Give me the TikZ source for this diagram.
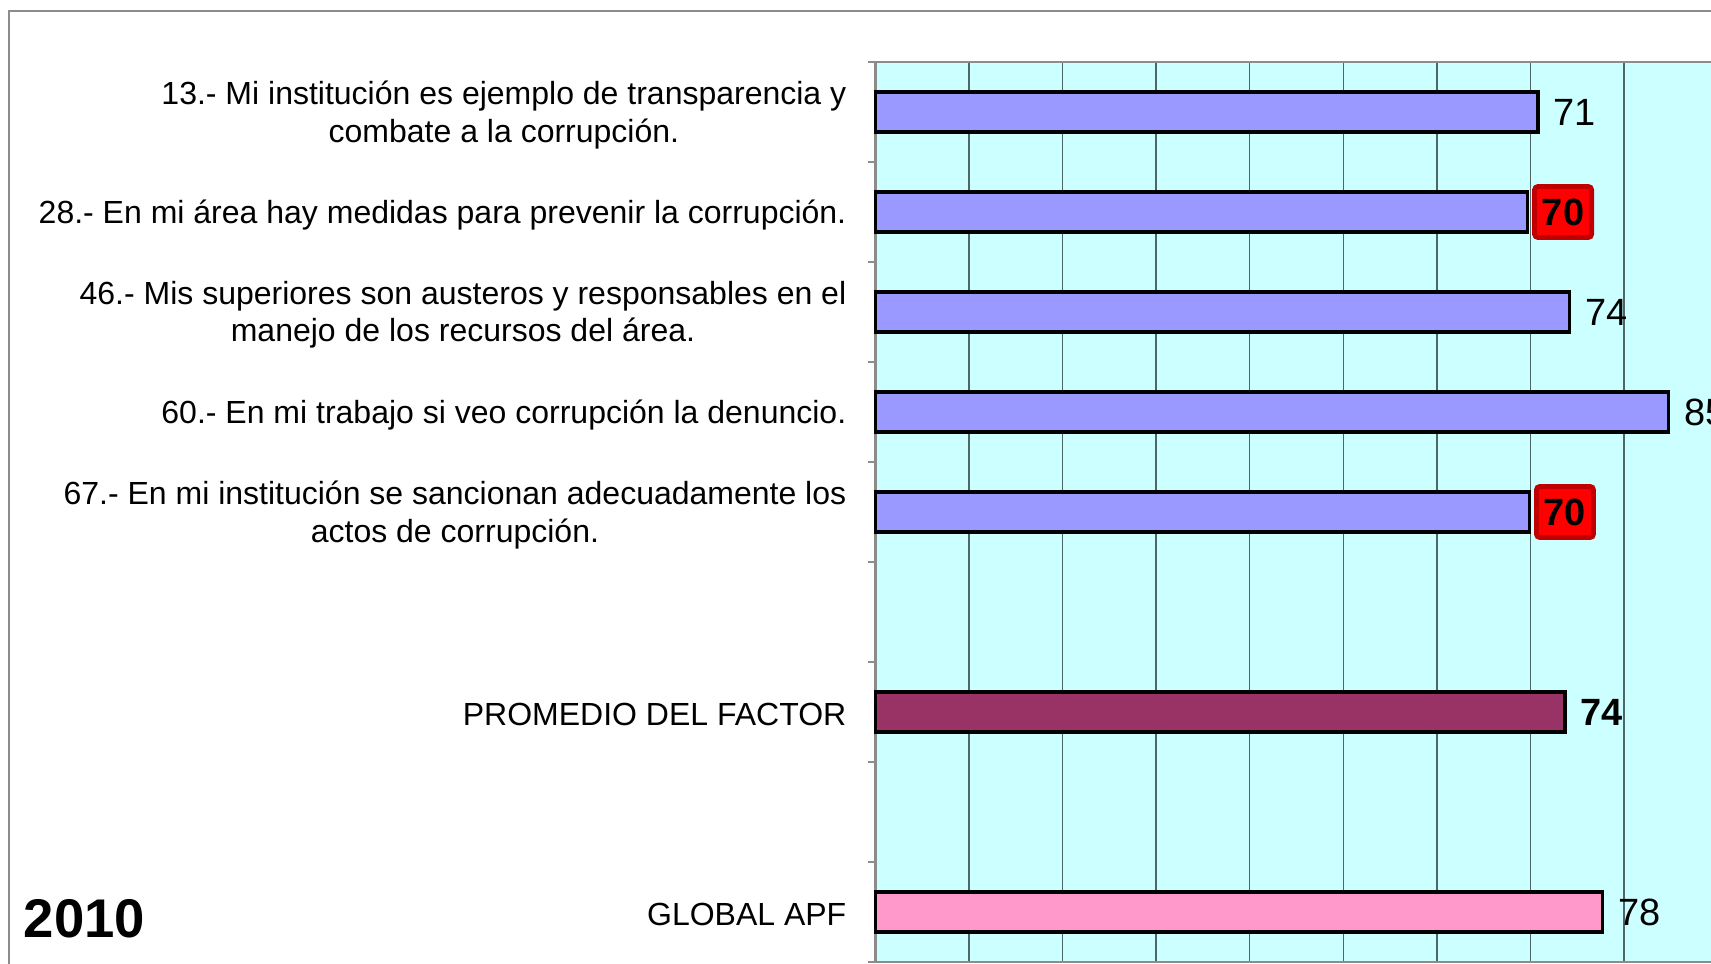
\documentclass[tikz,border=0pt]{standalone}
\usepackage{fontspec}
\setmainfont{Liberation Sans}
\definecolor{plotbg}{HTML}{CCFFFF}
\definecolor{barblue}{HTML}{9999FF}
\definecolor{barplum}{HTML}{993366}
\definecolor{barpink}{HTML}{FF99CC}
\definecolor{gridgray}{HTML}{4F6666}
\definecolor{framegray}{HTML}{8C8C8C}
\definecolor{alertred}{HTML}{FF0000}
\definecolor{alertdark}{HTML}{C00000}
\tikzset{
  itemlabel/.style={anchor=east, align=center, inner sep=0pt, font=\fontsize{9.1}{10.6}\selectfont},
  valuelabel/.style={anchor=west, inner sep=0pt, xshift=0.15cm, font=\fontsize{10.8}{12}\selectfont},
  alertbox/.style={anchor=west, xshift=0.045cm, fill=alertred, draw=alertdark, line width=1.4pt,
    rounded corners=1pt, minimum width=0.57cm, minimum height=0.51cm, inner sep=0pt,
    font=\fontsize{10.8}{12}\selectfont\bfseries},
  bar/.style={draw=black, line width=0.9pt},
  gridline/.style={draw=gridgray, line width=0.4pt},
  axisline/.style={draw=framegray, line width=0.6pt}
}
\begin{document}
\begin{tikzpicture}[x=0.01cm, y=-0.01cm]
  \useasboundingbox (0,0) rectangle (1711,964);
  \clip (0,0) rectangle (1711,964);
  \draw[axisline] (9,964) -- (9,11) -- (1711,11);

  \begin{scope}[xshift=8.75cm, x=0.0935cm]
    \fill[plotbg] (0,62) rectangle (100,962);
    \draw[gridline] (10,62) -- (10,962);
    \draw[gridline] (20,62) -- (20,962);
    \draw[gridline] (30,62) -- (30,962);
    \draw[gridline] (40,62) -- (40,962);
    \draw[gridline] (50,62) -- (50,962);
    \draw[gridline] (60,62) -- (60,962);
    \draw[gridline] (70,62) -- (70,962);
    \draw[gridline] (80,62) -- (80,962);
    \draw[gridline] (90,62) -- (90,962);
    \draw[axisline] (0,962) -- (0,62) -- (100,62);
    \draw[axisline] (0,962) -- (100,962);
    \foreach \t in {62,162,...,962}
      \draw[axisline] (-0.85,\t) -- (0,\t);

    \draw[bar, fill=barblue] (0,92) rectangle (70.8,132);
    \node[valuelabel] (v13) at (70.8,112) {71};
    \draw[bar, fill=barblue] (0,192) rectangle (69.7,232);
    \node[alertbox] (v28) at (69.7,212) {70};
    \draw[bar, fill=barblue] (0,292) rectangle (74.2,332);
    \node[valuelabel] (v46) at (74.2,312) {74};
    \draw[bar, fill=barblue] (0,392) rectangle (84.8,432);
    \node[valuelabel] (v60) at (84.8,412) {85};
    \draw[bar, fill=barblue] (0,492) rectangle (69.9,532);
    \node[alertbox] (v67) at (69.9,512) {70};
    \draw[bar, fill=barplum] (0,692) rectangle (73.7,732);
    \node[valuelabel, font=\fontsize{10.8}{12}\selectfont\bfseries] (vprom) at (73.7,712) {74};
    \draw[bar, fill=barpink] (0,892) rectangle (77.7,932);
    \node[valuelabel] (vglobal) at (77.7,912) {78};
  \end{scope}

  \node[itemlabel] (q13) at (847,115) {13.- Mi institución es ejemplo de transparencia y\\combate a la corrupción.};
  \node[itemlabel] (q28) at (847,215) {28.- En mi área hay medidas para prevenir la corrupción.};
  \node[itemlabel] (q46) at (847,315) {46.- Mis superiores son austeros y responsables en el\\manejo de los recursos del área.};
  \node[itemlabel] (q60) at (847,415) {60.- En mi trabajo si veo corrupción la denuncio.};
  \node[itemlabel] (q67) at (847,515) {67.- En mi institución se sancionan adecuadamente los\\actos de corrupción.};
  \node[itemlabel] (prom) at (847,714) {PROMEDIO DEL FACTOR};
  \node[itemlabel] (global) at (847,914) {GLOBAL APF};

  \node[anchor=base west, inner sep=0pt, font=\fontsize{15.5}{18}\selectfont\bfseries] (year) at (23,938) {2010};
\end{tikzpicture}
\end{document}
